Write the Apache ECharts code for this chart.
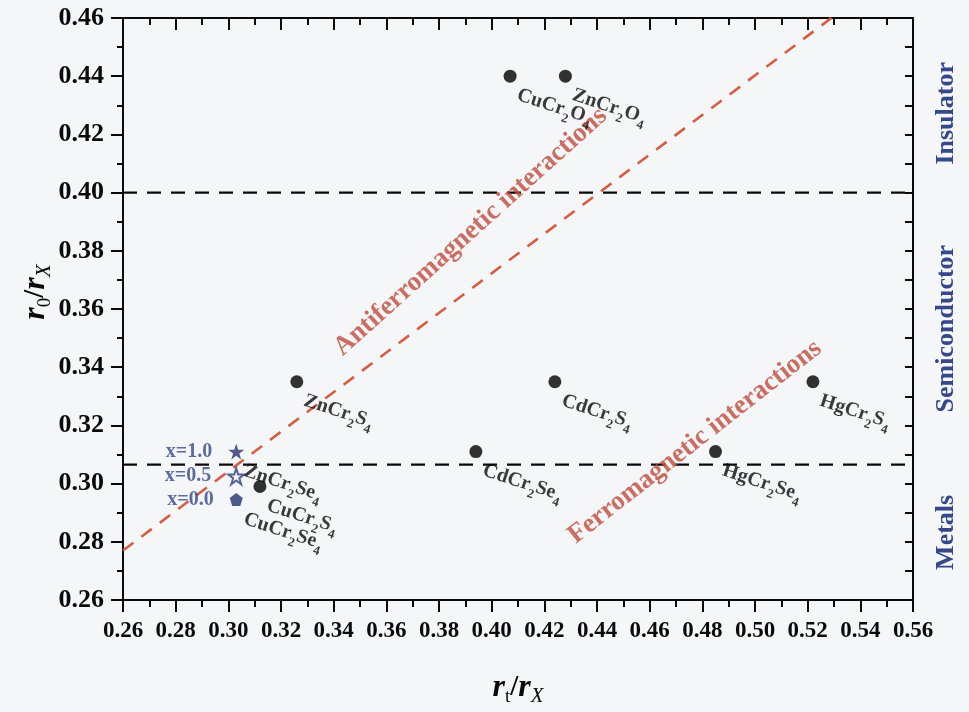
<!DOCTYPE html>
<html>
<head>
<meta charset="utf-8">
<script src="https://cdn.jsdelivr.net/npm/echarts@6/dist/echarts.min.js"></script>
<style>
  html, body { margin: 0; padding: 0; background: #f5f6f8; }
  #chart { width: 969px; height: 712px; }
</style>
</head>
<body>
<div id="chart"></div>
<script>
// Chromium spinels: tetrahedral / octahedral ionic radii ratios
const compounds = ['CuCr2O4', 'ZnCr2O4', 'ZnCr2S4', 'CdCr2S4', 'HgCr2S4', 'CdCr2Se4', 'HgCr2Se4', 'CuCr2S4'];
const rtOverRx  = [0.407, 0.428, 0.326, 0.424, 0.522, 0.394, 0.485, 0.312];
const r0OverRx  = [0.440, 0.440, 0.335, 0.335, 0.335, 0.311, 0.311, 0.299];

// Zn(x)Cu(1-x)Cr2Se4 solid solution
const solidLabels = ['x=1.0', 'x=0.5', 'x=0.0'];
const solidRt     = [0.303, 0.303, 0.303];
const solidR0     = [0.311, 0.3025, 0.2945];
const endMembers  = ['ZnCr2Se4', null, 'CuCr2Se4'];

// regime borders and the AFM / FM dividing line
const regimeBorders = [0.40, 0.3065];
const regimeNames   = ['Insulator', 'Semiconductor', 'Metals'];
const afmFmBorderX  = [0.26, 0.529];
const afmFmBorderY  = [0.277, 0.46];

// axis ticks
const xTicks = { min: 0.26, max: 0.56, step: 0.02 };
const yTicks = { min: 0.26, max: 0.46, step: 0.02 };

const SERIF = 'Liberation Serif';
const INK = '#0a0a0a';
const NAVY = '#34488a';
const BRICK = '#bf4b3c';

function formulaRich(name) {
  return name.replace(/([A-Za-z]+)|(\d+)/g, (m, letters, digits) =>
    letters ? '{a|' + letters + '}' : '{s|' + digits + '}');
}

const formulaStyles = {
  a: { fontFamily: SERIF, fontWeight: 'bold', fontSize: 20, color: INK, lineHeight: 30, verticalAlign: 'middle' },
  s: { fontFamily: SERIF, fontWeight: 'bold', fontSize: 13, color: INK, verticalAlign: 'bottom' }
};

const formulaLabel = {
  show: true,
  position: [14, 25],
  align: 'left',
  verticalAlign: 'middle',
  rotate: -18,
  formatter: p => formulaRich(p.name),
  rich: formulaStyles
};

const STAR = 'path://M50,0 L61.8,35.1 L98.9,35.1 L68.9,56.8 L80.2,91.9 L50,70.2 L19.8,91.9 L31.1,56.8 L1.1,35.1 L38.2,35.1 Z';
const PENTAGON = 'path://M50,0 L97.6,34.5 L79.4,90.5 L20.6,90.5 L2.4,34.5 Z';

function axisBase(t, extra) {
  return Object.assign({
    type: 'value', min: t.min, max: t.max, interval: t.step,
    splitLine: { show: false },
    axisLine: { show: true, onZero: false, lineStyle: { color: INK, width: 2 } },
    axisTick: { show: true, length: 12, lineStyle: { color: INK, width: 2 } },
    minorTick: { show: true, splitNumber: 2, length: 7, lineStyle: { color: INK, width: 2 } },
    minorSplitLine: { show: false }
  }, extra);
}

const solidMarkers = solidLabels.map((lab, i) => {
  const item = { name: lab, value: [solidRt[i], solidR0[i]] };
  if (i === 0) { item.symbol = STAR; item.symbolSize = 16; item.itemStyle = { color: '#24336e' }; }
  if (i === 1) { item.symbol = STAR; item.symbolSize = 16; item.itemStyle = { color: '#f5f6f8', borderColor: '#2c3d7c', borderWidth: 2 }; }
  if (i === 2) { item.symbol = PENTAGON; item.symbolSize = 13; item.itemStyle = { color: '#24336e' }; }
  return item;
});

// dashed regime borders span the whole x range
const borderSeries = regimeBorders.map(v => ({
  type: 'line', silent: true, symbol: 'none', z: 2,
  data: [[xTicks.min, v], [xTicks.max, v]],
  lineStyle: { color: INK, width: 2.2, type: [14, 10] }
}));

const option = {
  animation: false,
  backgroundColor: '#f5f6f8',
  grid: { left: 123, right: 56, top: 18, bottom: 112, outerBoundsMode: 'none' },
  xAxis: [
    axisBase(xTicks, {
      position: 'bottom',
      axisTick: { show: true, inside: false, length: 12, lineStyle: { color: INK, width: 2 } },
      axisLabel: { formatter: v => v.toFixed(2), fontFamily: SERIF, fontWeight: 'bold', fontSize: 23, color: INK, margin: 20 }
    }),
    axisBase(xTicks, {
      position: 'top',
      axisTick: { show: true, inside: true, length: 12, lineStyle: { color: INK, width: 2 } },
      axisLabel: { show: false }
    })
  ],
  yAxis: [
    axisBase(yTicks, {
      position: 'left',
      axisTick: { show: true, inside: false, length: 12, lineStyle: { color: INK, width: 2 } },
      minorTick: { show: true, splitNumber: 2, length: 6, lineStyle: { color: INK, width: 2 } },
      axisLabel: { formatter: v => v.toFixed(2), fontFamily: SERIF, fontWeight: 'bold', fontSize: 26, color: INK, margin: 19 }
    }),
    axisBase(yTicks, {
      position: 'right',
      axisTick: { show: true, inside: true, length: 8, lineStyle: { color: INK, width: 2 } },
      minorTick: { show: true, splitNumber: 2, length: 8, lineStyle: { color: INK, width: 2 } },
      axisLabel: { show: false }
    })
  ],
  series: borderSeries.concat([
    {
      // AFM / FM dividing line
      type: 'line', silent: true, symbol: 'none', z: 2,
      data: afmFmBorderX.map((x, i) => [x, afmFmBorderY[i]]),
      lineStyle: { color: '#d65d45', width: 2.6, type: [13, 10] }
    },
    {
      type: 'scatter', silent: true, symbolSize: 1, itemStyle: { color: 'rgba(0,0,0,0)' },
      label: {
        show: true, position: 'inside', rotate: 42, align: 'center', verticalAlign: 'middle',
        formatter: 'Antiferromagnetic interactions',
        fontFamily: SERIF, fontWeight: 'bold', fontSize: 27, color: BRICK
      },
      data: [[0.392, 0.3865]]
    },
    {
      type: 'scatter', silent: true, symbolSize: 1, itemStyle: { color: 'rgba(0,0,0,0)' },
      label: {
        show: true, position: 'inside', rotate: 38, align: 'center', verticalAlign: 'middle',
        formatter: 'Ferromagnetic interactions',
        fontFamily: SERIF, fontWeight: 'bold', fontSize: 27, color: BRICK
      },
      data: [[0.4772, 0.3143]]
    },
    {
      // end-member labels of the solid solution
      type: 'scatter', silent: true, symbolSize: 12, itemStyle: { color: 'rgba(0,0,0,0)' }, z: 4,
      label: formulaLabel,
      data: endMembers.map((n, i) => n ? { name: n, value: [solidRt[i], solidR0[i]] } : null).filter(Boolean)
    },
    {
      type: 'scatter', silent: true, z: 5,
      label: {
        show: true, position: 'left', distance: 16,
        formatter: p => p.name,
        fontFamily: SERIF, fontWeight: 'bold', fontSize: 20, color: NAVY
      },
      data: solidMarkers
    },
    {
      type: 'scatter', silent: true, symbol: 'circle', symbolSize: 13, z: 5,
      itemStyle: { color: '#000000' },
      label: formulaLabel,
      data: compounds.map((n, i) => ({ name: n, value: [rtOverRx[i], r0OverRx[i]] }))
    }
  ])
};

const chart = echarts.init(document.getElementById('chart'), null, { renderer: 'canvas' });
chart.setOption(option);

// axis titles and regime names
const titleRich = {
  r: { fontFamily: SERIF, fontStyle: 'italic', fontWeight: 'bold', fontSize: 32, fill: INK },
  sl: { fontFamily: SERIF, fontWeight: 'bold', fontSize: 29, fill: INK },
  s: { fontFamily: SERIF, fontSize: 19, fill: INK, verticalAlign: 'bottom', lineHeight: 37 },
  si: { fontFamily: SERIF, fontStyle: 'italic', fontSize: 21, fill: INK, verticalAlign: 'bottom', lineHeight: 37 }
};

const gridLeft = chart.convertToPixel({ xAxisIndex: 0 }, xTicks.min);
const gridRight = chart.convertToPixel({ xAxisIndex: 0 }, xTicks.max);
const bandEdges = [yTicks.max].concat(regimeBorders, [yTicks.min]);
const regimeGraphics = regimeNames.map((name, i) => {
  const yMid = (chart.convertToPixel({ yAxisIndex: 0 }, bandEdges[i]) +
                chart.convertToPixel({ yAxisIndex: 0 }, bandEdges[i + 1])) / 2;
  return {
    type: 'text', x: gridRight + 33, y: yMid + (i === 0 ? 8 : 0), rotation: Math.PI / 2, silent: true,
    style: { text: name, fontFamily: SERIF, fontWeight: 'bold', fontSize: 26, fill: NAVY,
             align: 'center', verticalAlign: 'middle' }
  };
});

chart.setOption({
  graphic: [
    {
      type: 'text', x: (gridLeft + gridRight) / 2, y: 688, silent: true,
      style: { text: '{r|r}{s|t}{sl|/}{r|r}{si|X}', rich: titleRich, align: 'center', verticalAlign: 'middle' }
    },
    {
      type: 'text', x: 36, y: 292, rotation: Math.PI / 2, silent: true,
      style: { text: '{r|r}{s|0}{sl|/}{r|r}{si|X}', rich: titleRich, align: 'center', verticalAlign: 'middle' }
    }
  ].concat(regimeGraphics)
});
</script>
</body>
</html>
